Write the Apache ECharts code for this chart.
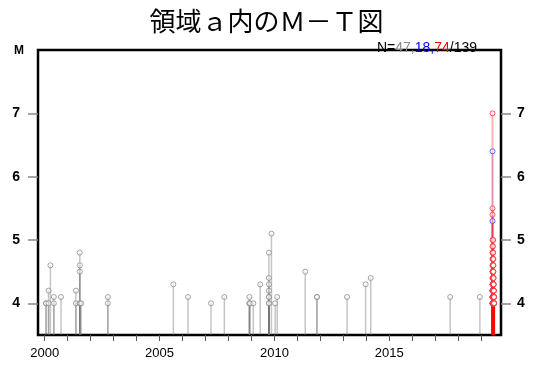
<!DOCTYPE html>
<html><head><meta charset="utf-8">
<script src="https://cdn.jsdelivr.net/npm/echarts@6/dist/echarts.min.js"></script>
<style>html,body{margin:0;padding:0;background:#fff}#c{width:533px;height:371px}</style>
</head><body><div id="c"></div>
<script>
// ---- data (decimal year, magnitude) ----
const grayYears = [2000.06,2000.06,2000.17,2000.17,2000.25,2000.40,2000.40,2000.71,2001.36,2001.36,
  2001.53,2001.53,2001.53,2001.53,2001.53,2001.59,2002.75,2002.75,2005.60,2006.24,
  2007.24,2007.82,2008.91,2008.91,2008.91,2008.94,2009.08,2009.38,2009.76,2009.76,
  2009.76,2009.76,2009.76,2009.76,2009.76,2009.76,2009.87,2010.03,2010.12,2011.34,
  2011.85,2011.85,2013.16,2013.97,2014.19,2017.65,2018.94];
const grayMags  = [4.0,4.0,4.0,4.2,4.6,4.1,4.0,4.1,4.2,4.0,
  4.8,4.6,4.5,4.0,4.0,4.0,4.1,4.0,4.3,4.1,
  4.0,4.1,4.1,4.0,4.0,4.0,4.0,4.3,4.8,4.4,
  4.3,4.2,4.1,4.1,4.0,4.0,5.1,4.0,4.1,4.5,
  4.1,4.1,4.1,4.3,4.4,4.1,4.1];
const blueYears = [2019.49,2019.49,2019.49,2019.49,2019.49,2019.49,2019.49,2019.49,2019.49,
  2019.50,2019.50,2019.50,2019.50,2019.50,2019.50,2019.50,2019.50,2019.50];
const blueMags  = [6.4,5.3,4.0,4.0,4.1,4.1,4.2,4.2,4.3,4.3,4.4,4.5,4.5,4.6,4.7,4.0,4.1,4.2];
const redYears = [2019.49,2019.49,2019.49,2019.49,2019.49,2019.49,2019.49,2019.49,2019.49,2019.49,
  2019.50,2019.50,2019.50,2019.50,2019.50,2019.50,2019.50,2019.50,2019.50,2019.50,
  2019.51,2019.51,2019.51,2019.51,2019.51,2019.51,2019.51,2019.51,2019.51,2019.51,
  2019.52,2019.52,2019.52,2019.52,2019.52,2019.52,2019.52,2019.52,2019.52,2019.52,
  2019.53,2019.53,2019.53,2019.53,2019.53,2019.53,2019.53,2019.53,2019.53,2019.53,
  2019.54,2019.54,2019.54,2019.54,2019.54,2019.54,2019.54,2019.54,2019.54,2019.54,
  2019.55,2019.55,2019.55,2019.55,2019.55,2019.55,2019.55,2019.55,2019.55,2019.55,
  2019.56,2019.56,2019.56,2019.56];
const redMags = [7.0,5.5,5.4,5.0,4.9,4.8,4.7,4.6,4.5,4.4,
  4.3,4.2,4.1,4.0,4.0,4.1,4.2,4.3,4.4,4.5,
  4.0,4.1,4.2,4.3,4.4,4.5,4.6,4.7,4.8,4.9,
  4.0,4.1,4.2,4.3,4.4,4.5,4.6,4.7,4.8,5.0,
  4.0,4.1,4.2,4.3,4.4,4.5,4.6,4.7,4.0,4.1,
  4.0,4.1,4.2,4.3,4.4,4.0,4.1,4.2,4.3,4.0,
  4.0,4.1,4.2,4.0,4.1,4.2,4.0,4.1,4.0,4.0,
  4.0,4.1,4.0,4.0];
const yTicks = [4,5,6,7];
const xTickYears = [2000,2001,2002,2003,2004,2005,2006,2007,2008,2009,2010,2011,2012,2013,2014,2015,2016,2017,2018,2019];
const xLabelYears = [2000,2005,2010,2015];
const counts = {gray:47, blue:18, red:74, total:139};

const Y_MIN = 3.5, Y_MAX = 8.0, X_MIN = 1999.71, X_MAX = 2019.86;

const zip = (a,b) => a.map((v,i)=>[v,b[i]]);
const grayData = zip(grayYears, grayMags);
const blueData = zip(blueYears, blueMags);
const redData  = zip(redYears, redMags);

function stems(data, color, w){
  return {
    type:'custom', data, xAxisIndex:0, yAxisIndex:0, silent:true, z:2,
    renderItem(params, api){
      const top = api.coord([api.value(0), api.value(1)]);
      const bot = api.coord([api.value(0), Y_MIN]);
      return {type:'line', shape:{x1:top[0],y1:top[1],x2:bot[0],y2:bot[1]},
        style:{stroke:color, lineWidth:w}};
    }
  };
}
function marks(data, border, z){
  return {type:'scatter', data, symbol:'circle', symbolSize:5, z,
    itemStyle:{color:'rgba(255,255,255,0.6)', borderColor:border, borderWidth:1}};
}

const chart = echarts.init(document.getElementById('c'), null, {renderer:'canvas'});
const axisLabelStyle = {color:'#000', fontFamily:'Liberation Sans', fontWeight:'bold', fontSize:14};
const nStyle = c => ({color:c, fontFamily:'Liberation Sans', fontSize:14, fontWeight:'normal'});
chart.setOption({
  animation:false,
  title:[
    {text:'領域ａ内のＭ－Ｔ図', left:'center', top:3,
     textStyle:{fontFamily:'Noto Sans CJK JP', fontWeight:'normal', fontSize:26, color:'#000'}},
    {text:`{k|N=}{g|${counts.gray},}{b|${counts.blue},}{r|${counts.red}}{k|/${counts.total}}`,
     right:51, top:36,
     textStyle:{fontWeight:'normal', rich:{k:nStyle('#000'), g:nStyle('#888'), b:nStyle('#0000ff'), r:nStyle('#ff0000')}}},
    {text:'M', left:9, top:40, textStyle:{fontFamily:'Liberation Sans', fontWeight:'bold', fontSize:12, color:'#000'}}
  ],
  grid:{left:38, right:32, top:50, bottom:36, show:true, borderColor:'#000', borderWidth:2.5, backgroundColor:'transparent'},
  xAxis:{type:'value', min:X_MIN, max:X_MAX, splitLine:{show:false},
    axisLine:{show:false},
    axisTick:{show:true, customValues:xTickYears, length:6, lineStyle:{color:'#555', width:1}},
    axisLabel:{customValues:xLabelYears, formatter:v=>String(Math.round(v)), margin:12,
      color:'#000', fontFamily:'Liberation Sans', fontSize:13}},
  yAxis:[
    {type:'value', min:Y_MIN, max:Y_MAX, position:'left', splitLine:{show:false}, axisLine:{show:false},
     axisTick:{show:true, customValues:yTicks, length:10, lineStyle:{color:'#888', width:1.5}},
     axisLabel:Object.assign({customValues:yTicks, margin:18}, axisLabelStyle)},
    {type:'value', min:Y_MIN, max:Y_MAX, position:'right', splitLine:{show:false}, axisLine:{show:false},
     axisTick:{show:true, customValues:yTicks, length:10, lineStyle:{color:'#888', width:1.5}},
     axisLabel:Object.assign({customValues:yTicks, margin:16}, axisLabelStyle)}
  ],
  series:[
    stems(grayData, 'rgba(110,110,110,0.4)', 1.5),
    stems(blueData, 'rgba(0,0,255,0.2)', 1.5),
    stems(redData, 'rgba(255,0,0,0.3)', 2),
    marks(grayData, '#8c8c8c', 5),
    marks(blueData, '#4040ff', 6),
    marks(redData, '#ff3030', 7)
  ]
});
</script></body></html>
